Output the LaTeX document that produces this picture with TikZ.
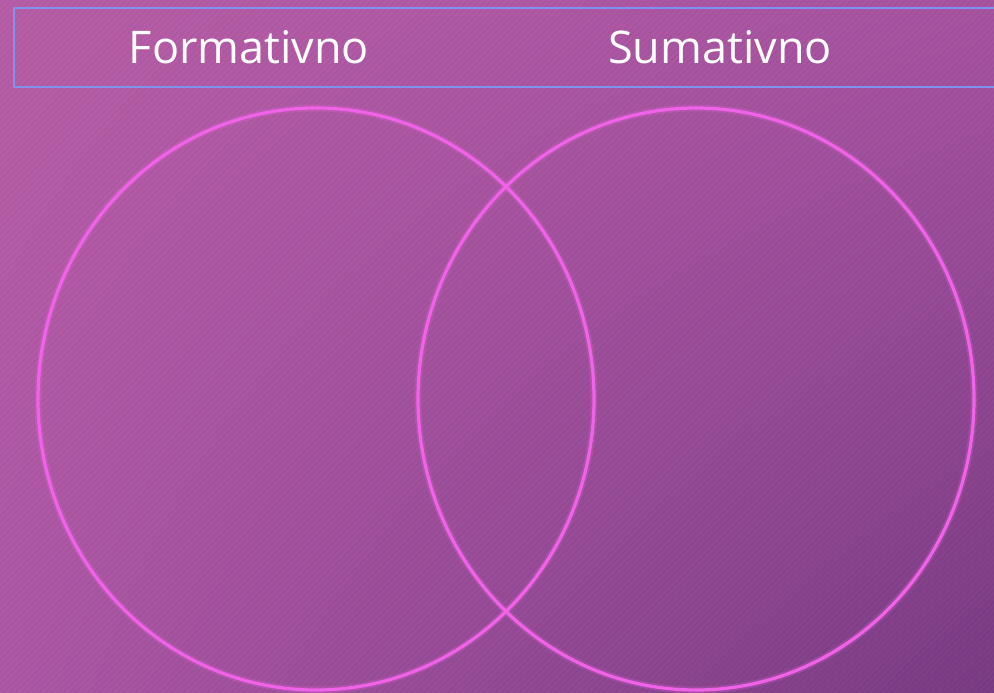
\documentclass[tikz,border=0pt]{standalone}
\usepackage{fontspec}
\setmainfont{Open Sans}
\usetikzlibrary{shadings}
\definecolor{bgTL}{RGB}{184,94,168}
\definecolor{bgTR}{RGB}{168,84,162}
\definecolor{bgBL}{RGB}{174,88,166}
\definecolor{bgBR}{RGB}{122,60,132}
\definecolor{ringcol}{RGB}{240,98,232}
\definecolor{boxcol}{RGB}{128,146,236}
\tikzset{
  ring/.style={draw=ringcol, line width=3.2pt},
  ringglow/.style={draw=ringcol, line width=7pt, opacity=0.22},
  stripe/.style={draw=black, line width=1.2pt, opacity=0.045},
  title/.style={text=white, font=\fontsize{45}{50}\selectfont, inner sep=0pt}
}
\begin{document}
\begin{tikzpicture}[x=1pt,y=-1pt]
\useasboundingbox (0,0) rectangle (994,693);
\shade[upper left=bgTL, upper right=bgTR, lower left=bgBL, lower right=bgBR] (0,0) rectangle (994,693);
\begin{scope}
\clip (0,0) rectangle (994,693);
\foreach \k in {0,6,...,1700} {
  \draw[stripe] (\k,0) -- ++(-700,700);
}
\end{scope}
\node[draw=boxcol, line width=2pt, minimum width=1000pt, minimum height=79pt, anchor=north west, inner sep=0pt] (box) at (13,7) {};
\node[title] (f) at (249,47) {Formativno};
\node[title] (s) at (720,47) {Sumativno};
\draw[ringglow] (316,399) ellipse [x radius=278, y radius=291];
\draw[ringglow] (696,399) ellipse [x radius=278, y radius=291];
\draw[ring] (316,399) ellipse [x radius=278, y radius=291];
\draw[ring] (696,399) ellipse [x radius=278, y radius=291];
\end{tikzpicture}
\end{document}
